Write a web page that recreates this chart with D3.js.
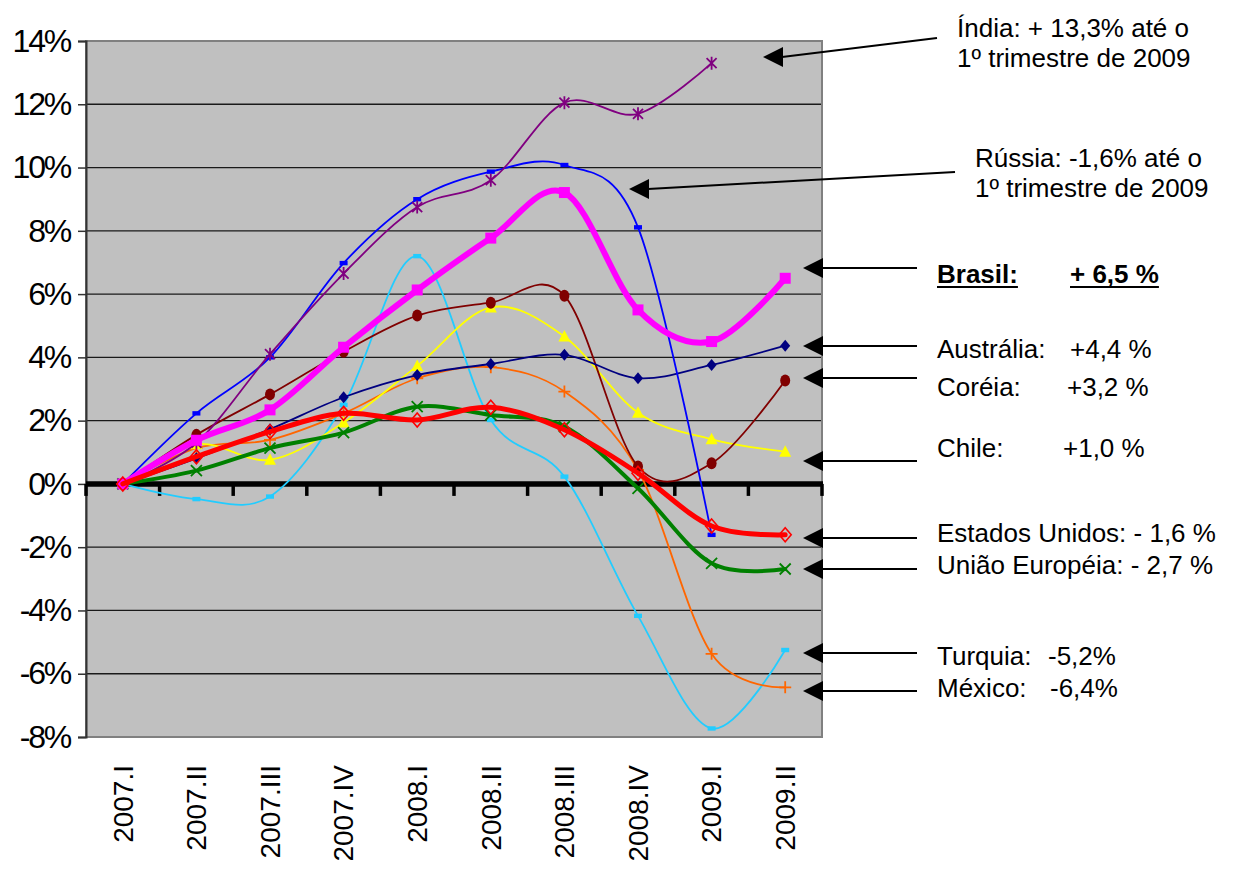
<!DOCTYPE html>
<html><head><meta charset="utf-8">
<script src="https://cdn.jsdelivr.net/npm/d3@7"></script>
<style>body{margin:0;background:#fff} svg{display:block}</style>
</head><body><svg id="c" width="1236" height="871"></svg>
<script>
const categories = ["2007.I","2007.II","2007.III","2007.IV","2008.I","2008.II","2008.III","2008.IV","2009.I","2009.II"];
const yTicks = [-8,-6,-4,-2,0,2,4,6,8,10,12,14];

const turquia   = [0,-0.48,-0.40,2.50,7.20,2.02,0.23,-4.17,-7.73,-5.25];
const mexico    = [0,1.13,1.39,2.23,3.34,3.69,2.92,0.44,-5.37,-6.43];
const chile     = [0,1.25,0.76,1.94,3.73,5.58,4.66,2.25,1.41,1.02];
const coreia    = [0,1.55,2.83,4.18,5.32,5.73,5.95,0.55,0.65,3.27];
const australia = [0,0.81,1.73,2.74,3.44,3.79,4.08,3.34,3.76,4.37];
const russia    = [0,2.23,4.00,6.98,9.00,9.87,10.08,8.11,-1.61,null];
const india     = [0,1.30,4.10,6.65,8.75,9.60,12.05,11.70,13.30,null];
const ue        = [0,0.42,1.13,1.62,2.44,2.18,1.81,-0.14,-2.51,-2.69];
const brasil    = [0,1.38,2.34,4.32,6.13,7.77,9.21,5.50,4.50,6.50];
const eua       = [0,0.86,1.65,2.23,2.02,2.42,1.71,0.34,-1.33,-1.61];

const series = [
  {name:"Turquia", values:turquia, color:"#22CCFF", width:1.8, marker:"dash"},
  {name:"México", values:mexico, color:"#FF6600", width:1.8, marker:"plus"},
  {name:"Chile", values:chile, color:"#FFFF00", width:1.8, marker:"triangle"},
  {name:"Coréia", values:coreia, color:"#800000", width:1.8, marker:"circle"},
  {name:"Austrália", values:australia, color:"#000080", width:1.8, marker:"diamond"},
  {name:"Rússia", values:russia, color:"#0000FF", width:1.8, marker:"dash"},
  {name:"Índia", values:india, color:"#800080", width:1.8, marker:"asterisk"},
  {name:"União Européia", values:ue, color:"#008000", width:4, marker:"x"},
  {name:"Brasil", values:brasil, color:"#FF00FF", width:6, marker:"square"},
  {name:"Estados Unidos", values:eua, color:"#FF0000", width:5, marker:"odiamond"}
];

const annotations = [
  {lines:["Índia: + 13,3% até o","1º trimestre de 2009"], tx:957, ty:37, tip:[763,57], end:[937,38]},
  {lines:["Rússia: -1,6% até o","1º trimestre de 2009"], tx:975, ty:167, tip:[629,189], end:[955,172]},
  {label:"Brasil:", value:"+ 6,5 %", vx:1070, tx:937, ty:283, tip:[803,268], end:[917,268], bold:true},
  {label:"Austrália:", value:"+4,4 %", vx:1070, tx:937, ty:358, tip:[803,346], end:[917,346]},
  {label:"Coréia:", value:"+3,2 %", vx:1067, tx:937, ty:396, tip:[803,378], end:[917,378]},
  {label:"Chile:", value:"+1,0 %", vx:1063, tx:937, ty:457, tip:[803,461], end:[917,461]},
  {lines:["Estados Unidos: - 1,6 %"], tx:937, ty:542, tip:[803,538], end:[917,538]},
  {lines:["União Européia: - 2,7 %"], tx:937, ty:574, tip:[803,569], end:[917,569]},
  {label:"Turquia:", value:"-5,2%", vx:1048, tx:937, ty:665, tip:[803,653], end:[917,653]},
  {label:"México:", value:"-6,4%", vx:1050, tx:937, ty:697, tip:[803,691], end:[917,691]}
];

const svg = d3.select("#c");
const L = 86, R = 822, T = 41, B = 737;
const FONT = "'Liberation Sans', Arial, sans-serif";

const x = d3.scaleBand().domain(categories).range([L, R]).padding(0);
const cx = c => x(c) + x.bandwidth()/2;
const y = d3.scaleLinear().domain([-8, 14]).range([B, T]);

svg.append("rect").attr("x", L).attr("y", T).attr("width", R-L).attr("height", B-T)
  .attr("fill", "#C0C0C0");

svg.append("g").selectAll("line").data(yTicks.filter(v => v > -8 && v < 14 && v !== 0)).join("line")
  .attr("x1", L).attr("x2", R).attr("y1", d => y(d)).attr("y2", d => y(d))
  .attr("stroke", "#1a1a1a").attr("stroke-width", 1.3);

svg.append("rect").attr("x", L).attr("y", T).attr("width", R-L).attr("height", B-T)
  .attr("fill", "none").attr("stroke", "#808080").attr("stroke-width", 2);

const yAxis = svg.append("g").attr("transform", `translate(${L},0)`)
  .call(d3.axisLeft(y).tickValues(yTicks).tickSize(8).tickPadding(8).tickFormat(d => d + "%"));
yAxis.select(".domain").attr("stroke", "#333").attr("stroke-width", 2);
yAxis.selectAll(".tick line").attr("stroke", "#333").attr("stroke-width", 1.5);
yAxis.selectAll("text").attr("font-family", FONT).attr("font-size", 32).attr("fill", "#000")
  .attr("letter-spacing", -2.2);

const bounds = categories.map(c => x(c)).concat([R]);
const zg = svg.append("g");
zg.selectAll("line.t").data(bounds).join("line").attr("class","t")
  .attr("x1", d => d).attr("x2", d => d).attr("y1", y(0)).attr("y2", y(0) + 12)
  .attr("stroke", "#000").attr("stroke-width", 3.5);
zg.append("line").attr("x1", L).attr("x2", R+1).attr("y1", y(0)).attr("y2", y(0))
  .attr("stroke", "#000").attr("stroke-width", 5.5);

const xAxis = svg.append("g").attr("transform", `translate(0,${B})`)
  .call(d3.axisBottom(x).tickSize(0).tickPadding(0));
xAxis.select(".domain").remove();
xAxis.selectAll("text")
  .attr("font-family", FONT).attr("font-size", 28).attr("fill", "#000")
  .attr("transform", "translate(0,28) rotate(-90)")
  .attr("text-anchor", "end").attr("dy", "0.35em").attr("x", 0).attr("y", 0);

const line = d3.line()
  .defined(d => d.v != null)
  .x(d => cx(d.c)).y(d => y(d.v))
  .curve(d3.curveCatmullRom.alpha(0));

const markerPath = {
  asterisk: "M-5,-5L5,5M-5,5L5,-5M0,-6.5L0,6.5",
  x: "M-5.5,-5.5L5.5,5.5M-5.5,5.5L5.5,-5.5",
  plus: "M-6,0L6,0M0,-6L0,6",
  diamond: "M0,-6L5,0L0,6L-5,0Z",
  odiamond: "M0,-7L6,0L0,7L-6,0Z",
  triangle: "M0,-6.5L6,5L-6,5Z",
  square: "M-5.5,-5.5L5.5,-5.5L5.5,5.5L-5.5,5.5Z",
  dash: "M-4,-2.2L4,-2.2L4,2.2L-4,2.2Z"
};
const strokedMarkers = new Set(["asterisk","x","plus","odiamond"]);

const gS = svg.append("g");
series.forEach(s => {
  const pts = categories.map((c, i) => ({c, v: s.values[i]}));
  gS.append("path").attr("d", line(pts)).attr("fill", "none")
    .attr("stroke", s.color).attr("stroke-width", s.width)
    .attr("stroke-linejoin", "round").attr("stroke-linecap", "round");
  gS.append("g").selectAll("path").data(pts.filter(p => p.v != null)).join("path")
    .attr("transform", p => `translate(${cx(p.c)},${y(p.v)})`)
    .attr("d", s.marker === "circle" ? "M0,-6A5,6 0 1,1 0,6A5,6 0 1,1 0,-6Z" : markerPath[s.marker])
    .attr("fill", strokedMarkers.has(s.marker) ? "none" : s.color)
    .attr("stroke", strokedMarkers.has(s.marker) ? s.color : "none")
    .attr("stroke-width", s.marker === "odiamond" ? 1.6 : 1.8);
});

const gA = svg.append("g").attr("font-family", FONT).attr("font-size", 26).attr("fill", "#000");
annotations.forEach(a => {
  const [tx, ty] = a.tip;
  gA.append("path").attr("d", `M${tx},${ty}L${tx+20},${ty-10}L${tx+20},${ty+10}Z`).attr("fill", "#000");
  gA.append("line").attr("x1", tx+19).attr("y1", ty).attr("x2", a.end[0]).attr("y2", a.end[1])
    .attr("stroke", "#000").attr("stroke-width", 2);
  if (a.lines) {
    a.lines.forEach((t, i) => gA.append("text").attr("x", a.tx).attr("y", a.ty + i*30).text(t));
  } else {
    const t1 = gA.append("text").attr("x", a.tx).attr("y", a.ty).text(a.label)
      .attr("font-weight", a.bold ? "bold" : null);
    const t2 = gA.append("text").attr("x", a.vx).attr("y", a.ty).text(a.value)
      .attr("font-weight", a.bold ? "bold" : null);
    if (a.bold) {
      [t1, t2].forEach(t => {
        const bb = t.node().getBBox();
        gA.append("line").attr("x1", bb.x).attr("x2", bb.x + bb.width)
          .attr("y1", a.ty + 4).attr("y2", a.ty + 4).attr("stroke", "#000").attr("stroke-width", 2.2);
      });
    }
  }
});
</script></body></html>
